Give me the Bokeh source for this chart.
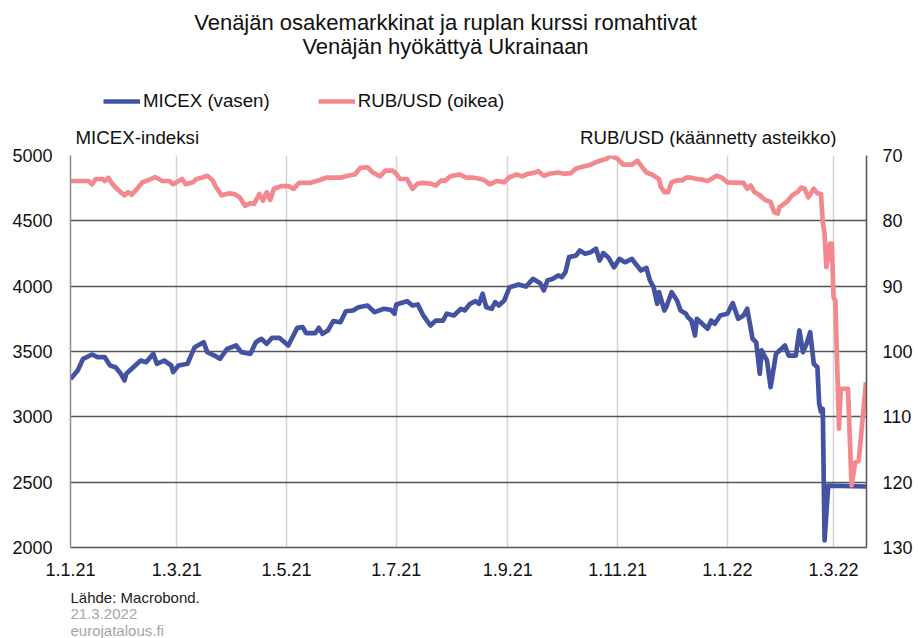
from datetime import datetime
import pandas as pd
from bokeh.plotting import figure
from bokeh.layouts import column
from bokeh.models import (Range1d, LinearAxis, FixedTicker, Label, Legend, LegendItem,
                          ColumnDataSource)
from bokeh.embed import file_html
from bokeh.resources import INLINE

FONT = "Liberation Sans"

title_lines = ["Venäjän osakemarkkinat ja ruplan kurssi romahtivat", "Venäjän hyökättyä Ukrainaan"]
left_label = "MICEX-indeksi"
right_label = "RUB/USD (käännetty asteikko)"
series_names = ["MICEX (vasen)", "RUB/USD (oikea)"]
footer = ["Lähde: Macrobond.", "21.3.2022", "eurojatalous.fi"]

tick_dates = ["2021-01-01", "2021-03-01", "2021-05-01", "2021-07-01", "2021-09-01",
              "2021-11-01", "2022-01-01", "2022-03-01"]
tick_labels = ["1.1.21", "1.3.21", "1.5.21", "1.7.21", "1.9.21", "1.11.21", "1.1.22", "1.3.22"]
left_ticks = [2000, 2500, 3000, 3500, 4000, 4500, 5000]
right_ticks = [70, 80, 90, 100, 110, 120, 130]

micex_dates = [
    "2021-01-01", "2021-01-05", "2021-01-08", "2021-01-13", "2021-01-16", "2021-01-20",
    "2021-01-23", "2021-01-26", "2021-01-29", "2021-01-31", "2021-02-01", "2021-02-04",
    "2021-02-09", "2021-02-12", "2021-02-16", "2021-02-18", "2021-02-22", "2021-02-26",
    "2021-02-27", "2021-03-02", "2021-03-07", "2021-03-11", "2021-03-16", "2021-03-18",
    "2021-03-22", "2021-03-25", "2021-03-29", "2021-04-03", "2021-04-06", "2021-04-11",
    "2021-04-14", "2021-04-17", "2021-04-20", "2021-04-23", "2021-04-27", "2021-05-02",
    "2021-05-07", "2021-05-10", "2021-05-12", "2021-05-17", "2021-05-19", "2021-05-21",
    "2021-05-24", "2021-05-27", "2021-05-31", "2021-06-03", "2021-06-07", "2021-06-10",
    "2021-06-15", "2021-06-19", "2021-06-24", "2021-06-28", "2021-06-30", "2021-07-01",
    "2021-07-07", "2021-07-10", "2021-07-13", "2021-07-16", "2021-07-20", "2021-07-23",
    "2021-07-27", "2021-07-29", "2021-08-02", "2021-08-06", "2021-08-08", "2021-08-11",
    "2021-08-14", "2021-08-16", "2021-08-18", "2021-08-20", "2021-08-23", "2021-08-25",
    "2021-08-27", "2021-08-30", "2021-09-02", "2021-09-07", "2021-09-11", "2021-09-15",
    "2021-09-19", "2021-09-21", "2021-09-23", "2021-09-26", "2021-09-29", "2021-10-01",
    "2021-10-03", "2021-10-05", "2021-10-09", "2021-10-11", "2021-10-14", "2021-10-17",
    "2021-10-20", "2021-10-22", "2021-10-24", "2021-10-27", "2021-10-30", "2021-11-02",
    "2021-11-05", "2021-11-09", "2021-11-11", "2021-11-14", "2021-11-17", "2021-11-19",
    "2021-11-21", "2021-11-23", "2021-11-24", "2021-11-27", "2021-11-28", "2021-12-01",
    "2021-12-04", "2021-12-06", "2021-12-09", "2021-12-10", "2021-12-12", "2021-12-14",
    "2021-12-15", "2021-12-18", "2021-12-21", "2021-12-23", "2021-12-25", "2021-12-28",
    "2022-01-01", "2022-01-04", "2022-01-07", "2022-01-10", "2022-01-12", "2022-01-15",
    "2022-01-17", "2022-01-19", "2022-01-20", "2022-01-23", "2022-01-25", "2022-01-28",
    "2022-01-30", "2022-02-02", "2022-02-04", "2022-02-08", "2022-02-10", "2022-02-12",
    "2022-02-14", "2022-02-16", "2022-02-18", "2022-02-20", "2022-02-21", "2022-02-22",
    "2022-02-23", "2022-02-24", "2022-02-26", "2022-03-19"]
micex_values = [
    3290, 3355, 3444, 3477, 3457, 3457,
    3393, 3380, 3329, 3278, 3330, 3368,
    3431, 3418, 3482, 3406, 3431, 3393,
    3342, 3393, 3406, 3533, 3571, 3495,
    3469, 3444, 3520, 3546, 3495, 3482,
    3571, 3597, 3559, 3605, 3605, 3546,
    3681, 3686, 3640, 3640, 3681, 3635,
    3661, 3732, 3724, 3808, 3814, 3839,
    3852, 3801, 3827, 3819, 3789, 3860,
    3885, 3852, 3860, 3776, 3699, 3737,
    3737, 3789, 3776, 3827, 3814, 3865,
    3885, 3865, 3942, 3839, 3827, 3878,
    3852, 3890, 3992, 4013, 3997, 4056,
    4023, 3967, 4043, 4056, 4082, 4069,
    4107, 4222, 4235, 4273, 4248, 4260,
    4286, 4196, 4253, 4217, 4145, 4209,
    4183, 4209, 4171, 4120, 4140, 4043,
    3992, 3865, 3954, 3814, 3839, 3954,
    3890, 3814, 3789, 3763, 3737, 3622,
    3750, 3712, 3674, 3737, 3712, 3776,
    3789, 3870, 3750, 3776, 3827, 3597,
    3571, 3329, 3508, 3431, 3227, 3482,
    3508, 3546, 3469, 3469, 3661, 3495,
    3559, 3648, 3406, 3380, 3100, 3040,
    3060, 2054, 2474, 2467]

rub_dates = [
    "2021-01-01", "2021-01-11", "2021-01-13", "2021-01-15", "2021-01-19", "2021-01-20",
    "2021-01-22", "2021-01-25", "2021-01-28", "2021-01-31", "2021-02-02", "2021-02-04",
    "2021-02-07", "2021-02-10", "2021-02-13", "2021-02-17", "2021-02-21", "2021-02-25",
    "2021-02-27", "2021-03-01", "2021-03-04", "2021-03-06", "2021-03-10", "2021-03-12",
    "2021-03-15", "2021-03-18", "2021-03-21", "2021-03-23", "2021-03-26", "2021-03-30",
    "2021-04-02", "2021-04-05", "2021-04-08", "2021-04-11", "2021-04-13", "2021-04-16",
    "2021-04-18", "2021-04-20", "2021-04-22", "2021-04-24", "2021-04-28", "2021-05-02",
    "2021-05-05", "2021-05-08", "2021-05-14", "2021-05-19", "2021-05-23", "2021-05-31",
    "2021-06-04", "2021-06-08", "2021-06-11", "2021-06-15", "2021-06-18", "2021-06-22",
    "2021-06-25", "2021-06-29", "2021-07-01", "2021-07-03", "2021-07-07", "2021-07-10",
    "2021-07-13", "2021-07-16", "2021-07-20", "2021-07-23", "2021-07-26", "2021-07-28",
    "2021-07-31", "2021-08-05", "2021-08-09", "2021-08-13", "2021-08-17", "2021-08-19",
    "2021-08-22", "2021-08-26", "2021-08-30", "2021-09-02", "2021-09-06", "2021-09-09",
    "2021-09-12", "2021-09-15", "2021-09-18", "2021-09-21", "2021-09-24", "2021-09-29",
    "2021-10-02", "2021-10-06", "2021-10-09", "2021-10-13", "2021-10-17", "2021-10-21",
    "2021-10-26", "2021-10-28", "2021-11-01", "2021-11-04", "2021-11-09", "2021-11-12",
    "2021-11-15", "2021-11-17", "2021-11-20", "2021-11-24", "2021-11-25", "2021-11-27",
    "2021-11-29", "2021-12-01", "2021-12-04", "2021-12-07", "2021-12-09", "2021-12-12",
    "2021-12-15", "2021-12-18", "2021-12-21", "2021-12-23", "2021-12-26", "2021-12-29",
    "2022-01-01", "2022-01-10", "2022-01-12", "2022-01-14", "2022-01-16", "2022-01-19",
    "2022-01-22", "2022-01-25", "2022-01-27", "2022-01-29", "2022-01-30", "2022-02-03",
    "2022-02-06", "2022-02-09", "2022-02-11", "2022-02-13", "2022-02-15", "2022-02-18",
    "2022-02-20", "2022-02-22", "2022-02-23", "2022-02-24", "2022-02-25", "2022-02-27",
    "2022-02-28", "2022-03-01", "2022-03-02", "2022-03-04", "2022-03-05", "2022-03-09",
    "2022-03-11", "2022-03-13", "2022-03-15", "2022-03-19"]
rub_values = [
    73.9, 73.9, 74.4, 73.6, 73.6, 73.9,
    73.4, 74.6, 75.4, 76.1, 75.6, 76.0,
    75.1, 74.1, 73.8, 73.3, 73.9, 73.9,
    74.4, 74.1, 73.6, 74.4, 74.1, 73.6,
    73.4, 73.1, 73.8, 74.9, 76.1, 75.8,
    75.9, 76.4, 77.7, 77.3, 77.4, 75.9,
    76.9, 75.6, 76.8, 75.1, 74.7, 74.7,
    75.1, 74.2, 74.2, 73.8, 73.4, 73.4,
    73.1, 72.9, 71.9, 71.8, 72.6, 73.2,
    72.3, 72.3, 72.8, 73.6, 73.6, 75.1,
    74.3, 74.2, 74.3, 74.6, 73.8, 73.9,
    73.2, 72.9, 73.4, 73.4, 73.6, 73.8,
    74.4, 73.9, 74.1, 73.3, 72.9, 73.2,
    72.8, 72.7, 72.4, 73.1, 72.8, 72.6,
    72.8, 72.7, 72.0, 71.7, 71.4, 70.9,
    70.5, 70.0, 70.5, 71.4, 71.4, 70.8,
    71.9, 72.6, 72.9, 73.6, 74.8, 75.6,
    75.6, 74.1, 73.8, 73.8, 73.4, 73.4,
    73.6, 73.7, 73.9, 73.6, 73.1, 73.4,
    74.1, 74.2, 75.1, 74.6, 75.6, 76.1,
    76.8, 77.1, 78.7, 78.9, 77.9, 77.1,
    76.1, 75.6, 74.9, 75.1, 76.4, 75.1,
    75.8, 75.9, 80.2, 82.0, 87.1, 83.5,
    83.5, 91.7, 92.2, 111.8, 105.7, 105.7,
    120.5, 117.0, 116.7, 104.7]

BLUE = "#4353A2"
PINK = "#F3898E"
W = 918
H = 638
HEADER_H = 147
FOOTER_H = 48
MAIN_H = H - HEADER_H - FOOTER_H
FL, FR = 70, 866          # frame left/right (page pixels); all parts share it


def to_ms(d):
    return (pd.Timestamp(d) - pd.Timestamp("1970-01-01")).total_seconds() * 1000.0


def blank(top, height):
    # page-pixel coordinates: x = page x, y = page y (downwards)
    f = figure(width=W, height=height, output_backend="svg", toolbar_location=None,
               x_range=Range1d(FL, FR), y_range=Range1d(top + height, top),
               x_axis_location=None, y_axis_location=None,
               min_border_left=FL, min_border_right=W - FR, min_border_top=0, min_border_bottom=0)
    f.outline_line_color = None
    f.xgrid.visible = False
    f.ygrid.visible = False
    f.background_fill_color = "white"
    f.border_fill_color = "white"
    return f


def lab(fig, text, x, y, size, align="left", color="#111111"):
    fig.add_layout(Label(text=text, x=x, y=y, text_align=align, text_baseline="middle",
                         text_font=FONT, text_font_size=size, text_color=color))


# ---------------- header: title, legend, axis titles ----------------
header = blank(0, HEADER_H)
lab(header, title_lines[0], 445, 22, "22px", "center")
lab(header, title_lines[1], 445, 46, "22px", "center")
lab(header, left_label, 75, 137, "18.7px")
lab(header, right_label, 836, 137, "18.7px", "right")

nan = float("nan")
leg_micex = header.line("x", "y", source=ColumnDataSource(dict(x=[nan], y=[nan])),
                        line_color=BLUE, line_width=4.5)
leg_rub = header.line("x", "y", source=ColumnDataSource(dict(x=[nan], y=[nan])),
                      line_color=PINK, line_width=4.5)
legend = Legend(items=[LegendItem(label=series_names[0], renderers=[leg_micex]),
                       LegendItem(label=series_names[1], renderers=[leg_rub])],
                location=(103 - FL, HEADER_H - 112), orientation="horizontal",
                glyph_width=37, glyph_height=20, label_height=20, label_standoff=3,
                spacing=48, padding=0, margin=0, border_line_color=None,
                background_fill_alpha=0, label_text_font=FONT, label_text_font_size="18.7px",
                label_text_color="#111111")
header.add_layout(legend, "center")

# ---------------- main chart ----------------
micex_src = ColumnDataSource(dict(x=pd.to_datetime(micex_dates), y=micex_values))
rub_src = ColumnDataSource(dict(x=pd.to_datetime(rub_dates), y=rub_values))

p = figure(width=W, height=MAIN_H, x_axis_type="datetime", output_backend="svg",
           toolbar_location=None,
           x_range=Range1d(datetime(2021, 1, 1), datetime(2022, 3, 19, 7)),
           y_range=Range1d(2000, 5000),
           min_border_left=FL, min_border_right=W - FR, min_border_top=8,
           min_border_bottom=MAIN_H - (547 - HEADER_H))
p.extra_y_ranges = {"rub": Range1d(start=130, end=70)}
p.outline_line_color = None
p.background_fill_color = "white"
p.border_fill_color = "white"

r_micex = p.line("x", "y", source=micex_src, line_color=BLUE, line_width=4.7, line_join="round")
r_rub = p.line("x", "y", source=rub_src, line_color=PINK, line_width=4.7, line_join="round",
               y_range_name="rub")

tick_ms = [to_ms(d) for d in tick_dates]
xa = p.xaxis[0]
xa.ticker = FixedTicker(ticks=tick_ms)
xa.major_label_overrides = {t: l for t, l in zip(tick_ms, tick_labels)}
xa.major_label_text_font = FONT
xa.major_label_text_font_size = "18px"
xa.major_label_text_color = "#111111"
xa.major_label_standoff = 9
xa.major_tick_line_color = None
xa.minor_tick_line_color = None
xa.axis_line_color = "#555555"
xa.axis_line_width = 1.5

ya = p.yaxis[0]
ya.ticker = FixedTicker(ticks=left_ticks)
ya.major_label_text_font = FONT
ya.major_label_text_font_size = "18px"
ya.major_label_text_color = "#111111"
ya.major_label_standoff = 12
ya.major_tick_line_color = None
ya.minor_tick_line_color = None
ya.axis_line_color = "#8c8c8c"
ya.axis_line_width = 1.5

ra = LinearAxis(y_range_name="rub", ticker=FixedTicker(ticks=right_ticks))
ra.major_label_text_font = FONT
ra.major_label_text_font_size = "18px"
ra.major_label_text_color = "#111111"
ra.major_label_standoff = 10
ra.major_tick_line_color = None
ra.minor_tick_line_color = None
ra.axis_line_color = "#555555"
ra.axis_line_width = 1.5
p.add_layout(ra, "right")

p.ygrid.ticker = FixedTicker(ticks=left_ticks)
p.ygrid.grid_line_color = "#555555"
p.ygrid.grid_line_width = 1.3
p.xgrid.grid_line_color = "#d4d4d4"
p.xgrid.grid_line_width = 1.5

# ---------------- footer ----------------
foot = blank(H - FOOTER_H, FOOTER_H)
lab(foot, footer[0], 70, 597, "15px", color="#222222")
lab(foot, footer[1], 70, 613, "15px", color="#a6a6a6")
lab(foot, footer[2], 70, 630, "15px", color="#a6a6a6")

layout = column(header, p, foot, spacing=0)
open("out.html", "w").write(file_html(layout, INLINE))
